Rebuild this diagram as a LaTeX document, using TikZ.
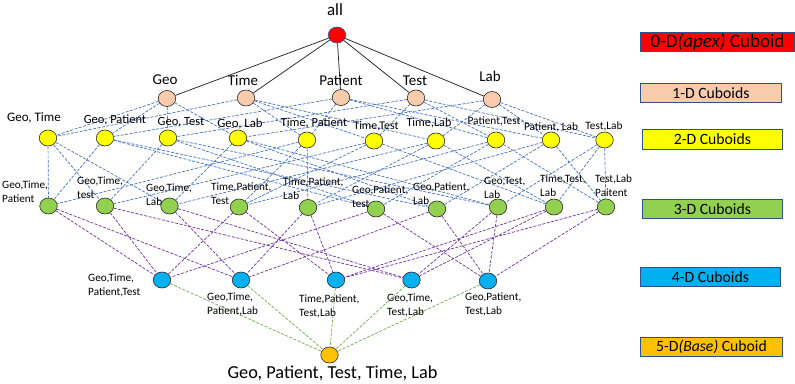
\documentclass[tikz,border=0pt]{standalone}
\usepackage{fontspec}
\setmainfont{Carlito}
\usetikzlibrary{shapes.geometric,backgrounds}
\definecolor{cRed}{HTML}{FF0000}
\definecolor{cPeach}{HTML}{F8CBAD}
\definecolor{cYellow}{HTML}{FFFF00}
\definecolor{cGreen}{HTML}{92D050}
\definecolor{cCyan}{HTML}{00B0F0}
\definecolor{cOrange}{HTML}{FFC000}
\definecolor{cBorder}{HTML}{2F528F}
\definecolor{eBlue}{HTML}{4472C4}
\definecolor{ePurple}{HTML}{7030A0}
\definecolor{eGreen}{HTML}{70AD47}
\tikzset{
  cub/.style={ellipse, draw=black!85, line width=0.6pt, minimum width=17.5pt, minimum height=16pt, inner sep=0pt},
  apexnode/.style={cub, fill=cRed, draw=cBorder},
  onenode/.style={cub, fill=cPeach},
  twonode/.style={cub, fill=cYellow},
  threenode/.style={cub, fill=cGreen},
  fournode/.style={cub, fill=cCyan},
  basenode/.style={cub, fill=cOrange},
  lbsize/.style={inner sep=0pt, font=\fontsize{#1}{#1}\selectfont},
  lbmulti/.style={inner sep=0pt, anchor=west, align=left, font=\fontsize{11.2}{14}\selectfont},
  topedge/.style={draw=black!85, line width=0.75pt},
  bedge/.style={draw=eBlue, line width=0.7pt, dash pattern=on 3pt off 1.5pt},
  pedge/.style={draw=ePurple, line width=0.7pt, dash pattern=on 3pt off 1.5pt},
  gedge/.style={draw=eGreen, line width=0.7pt, dash pattern=on 3pt off 1.5pt},
  legendbox/.style={draw=cBorder, line width=0.9pt, inner sep=0pt, anchor=north west, minimum height=19pt, font=\fontsize{15.7}{16}\selectfont}
}
\begin{document}
\begin{tikzpicture}[x=1pt,y=-1pt]
\useasboundingbox (0,0) rectangle (795,383);
% nodes
\node[apexnode] (all) at (337,35) {};
\node[onenode] (G) at (167,98.5) {};
\node[onenode] (T) at (246,98) {};
\node[onenode] (P) at (341,97.5) {};
\node[onenode] (E) at (416,98) {};
\node[onenode] (L) at (492,99.5) {};
\node[twonode] (GT) at (48,138) {};
\node[twonode] (GP) at (105,138) {};
\node[twonode] (GE) at (168,138) {};
\node[twonode] (GL) at (238,138) {};
\node[twonode] (TP) at (307,140) {};
\node[twonode] (TE) at (374,141) {};
\node[twonode] (TL) at (436,141) {};
\node[twonode] (PE) at (496,140) {};
\node[twonode] (PL) at (551,140) {};
\node[twonode] (EL) at (604.5,140) {};
\node[threenode] (GTP) at (48.5,206) {};
\node[threenode] (GTE) at (105,206) {};
\node[threenode] (GTL) at (169.5,206) {};
\node[threenode] (TPE) at (239,207) {};
\node[threenode] (TPL) at (308,207.5) {};
\node[threenode] (GPE) at (376,209) {};
\node[threenode] (GPL) at (437,209) {};
\node[threenode] (GEL) at (498,207) {};
\node[threenode] (TEL) at (554,207) {};
\node[threenode] (PEL) at (606,207) {};
\node[fournode] (GTPE) at (162,280) {};
\node[fournode] (GTPL) at (241,280) {};
\node[fournode] (TPEL) at (336,280) {};
\node[fournode] (GTEL) at (411.5,280) {};
\node[fournode] (GPEL) at (488,281) {};
\node[basenode] (B) at (329.5,355) {};
% edges
\begin{pgfonlayer}{background}
\foreach \b in {G,T,P,E,L} \draw[topedge] (all) -- (\b);
\foreach \a/\b in {G/GT,G/GP,G/GE,G/GL,T/GT,T/TP,T/TE,T/TL,P/GP,P/TP,P/PE,P/PL,E/GE,E/TE,E/PE,E/EL,L/GL,L/TL,L/PL,L/EL}
  \draw[bedge] (\a) -- (\b);
\foreach \a/\b in {GT/GTP,GP/GTP,TP/GTP, GT/GTE,GE/GTE,TE/GTE, GT/GTL,GL/GTL,TL/GTL, TP/TPE,TE/TPE,PE/TPE, TP/TPL,TL/TPL,PL/TPL, GP/GPE,GE/GPE,PE/GPE, GP/GPL,GL/GPL,PL/GPL, GE/GEL,GL/GEL,EL/GEL, TE/TEL,TL/TEL,EL/TEL, PE/PEL,PL/PEL,EL/PEL}
  \draw[bedge] (\a) -- (\b);
\foreach \a/\b in {GTP/GTPE,GTE/GTPE,TPE/GTPE,GPE/GTPE, GTP/GTPL,GTL/GTPL,TPL/GTPL,GPL/GTPL, TPE/TPEL,TPL/TPEL,TEL/TPEL,PEL/TPEL, GTE/GTEL,GTL/GTEL,GEL/GTEL,TEL/GTEL, GPE/GPEL,GPL/GPEL,GEL/GPEL,PEL/GPEL}
  \draw[pedge] (\a) -- (\b);
\foreach \a in {GTPE,GTPL,TPEL,GTEL,GPEL} \draw[gedge] (\a) -- (B);
\end{pgfonlayer}
% labels
\node[lbsize=17] (lall) at (335,10) {all};
\node[lbsize=15] (lG) at (165,80) {Geo};
\node[lbsize=15] (lT) at (243,80) {Time};
\node[lbsize=15] (lP) at (341,80) {Patient};
\node[lbsize=15] (lE) at (415,81) {Test};
\node[lbsize=15] (lL) at (490,76) {Lab};
\node[lbsize=13] (lGT) at (34,118) {Geo, Time};
\node[lbsize=12.5] (lGP) at (115,120) {Geo, Patient};
\node[lbsize=12.5] (lGE) at (181,122) {Geo, Test};
\node[lbsize=12.8] (lGL) at (240,124) {Geo, Lab};
\node[lbsize=12.4] (lTP) at (314,123) {Time, Patient};
\node[lbsize=11.8] (lTE) at (376,126) {Time,Test};
\node[lbsize=12.2] (lTL) at (429,123) {Time,Lab};
\node[lbsize=11.3] (lPE) at (494,121) {Patient,Test};
\node[lbsize=11.3] (lPL) at (551,127) {Patient, Lab};
\node[lbsize=11.3] (lEL) at (604,126) {Test,Lab};
\node[lbmulti] (lGTP) at (2,192) {Geo,Time,\\Patient};
\node[lbmulti] (lGTE) at (77,188) {Geo,Time,\\test};
\node[lbmulti] (lGTL) at (146,195) {Geo,Time,\\Lab};
\node[lbmulti] (lTPE) at (211,194) {Time,Patient,\\Test};
\node[lbmulti] (lTPL) at (283,189) {Time,Patient,\\Lab};
\node[lbmulti] (lGPE) at (352,197) {Geo,Patient,\\test};
\node[lbmulti] (lGPL) at (413,194) {Geo,Patient,\\Lab};
\node[lbmulti] (lGEL) at (484,188) {Geo,Test,\\Lab};
\node[lbmulti] (lTEL) at (540,186) {Time,Test,\\Lab};
\node[lbmulti] (lPEL) at (595,186) {Test,Lab\\Paitent};
\node[lbmulti] (lGTPE) at (88,285) {Geo,Time,\\Patient,Test};
\node[lbmulti] (lGTPL) at (207,304.5) {Geo,Time,\\Patient,Lab};
\node[lbmulti] (lTPEL) at (299,306.5) {Time,Patient,\\Test,Lab};
\node[lbmulti] (lGTEL) at (387,305.5) {Geo,Time,\\Test,Lab};
\node[lbmulti] (lGPEL) at (465,304.5) {Geo,Patient,\\Test,Lab};
\node[lbsize=18.3] (lB) at (332.5,373) {Geo, Patient, Test, Time, Lab};
% legend
\node[legendbox, fill=cRed, minimum width=154pt, minimum height=19pt, font=\fontsize{19}{19}\selectfont] (lg0) at (640,32) {0-D\textit{(apex)} Cuboid};
\node[legendbox, fill=cPeach, minimum width=141pt] (lg1) at (640,83) {1-D Cuboids};
\node[legendbox, fill=cYellow, minimum width=140pt, minimum height=20pt] (lg2) at (642,129) {2-D Cuboids};
\node[legendbox, fill=cGreen, minimum width=140pt] (lg3) at (642,199) {3-D Cuboids};
\node[legendbox, fill=cCyan, minimum width=140pt] (lg4) at (640,267) {4-D Cuboids};
\node[legendbox, fill=cOrange, minimum width=142pt] (lg5) at (640,337) {5-D\textit{(Base)} Cuboid};
\end{tikzpicture}
\end{document}
